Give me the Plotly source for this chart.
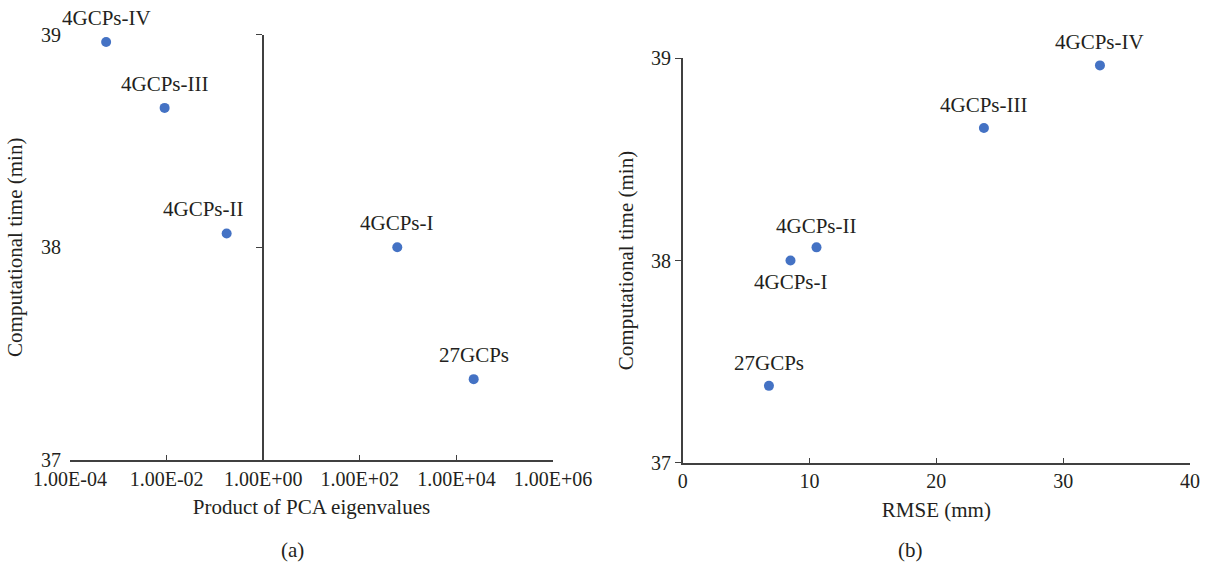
import math
import plotly.graph_objects as go

# ---- data ----
labels = ["4GCPs-I", "4GCPs-II", "4GCPs-III", "4GCPs-IV", "27GCPs"]
pca_product = [597, 0.175, 0.0091, 0.00056, 22800]
rmse_mm = [8.5, 10.55, 23.75, 32.9, 6.8]
comp_time = [38.00, 38.065, 38.655, 38.965, 37.38]

x_a_tickvals = [1e-4, 1e-2, 1e0, 1e2, 1e4, 1e6]
x_a_ticktext = ["1.00E-04", "1.00E-02", "1.00E+00", "1.00E+02", "1.00E+04", "1.00E+06"]

# ---- label placement (style) ----
lab_a_dx = [0, -23, 0, 0, 0]
lab_a_dy = [24, 24, 24, 24, 24]
lab_b_dx = [0, 0, 0, 0, 0]
lab_b_dy = [-22, 21, 23, 23, 23]

FONT = "Liberation Serif"
TXT = "#231f20"
AX = "#404040"
BLUE = "#4472c4"

tick_font = dict(family=FONT, size=20, color=TXT)
lab_font = dict(family=FONT, size=21, color=TXT)
ttl_font = dict(family=FONT, size=21, color=TXT)

fig = go.Figure()

fig.add_trace(go.Scatter(
    x=pca_product, y=comp_time, mode="markers",
    marker=dict(color=BLUE, size=10), xaxis="x", yaxis="y",
    cliponaxis=False, showlegend=False, hoverinfo="skip"))
# carrier for the crossing axis line at x = 1
fig.add_trace(go.Scatter(x=[], y=[], xaxis="x", yaxis="y3", showlegend=False))

fig.add_trace(go.Scatter(
    x=rmse_mm, y=comp_time, mode="markers",
    marker=dict(color=BLUE, size=10), xaxis="x2", yaxis="y2",
    cliponaxis=False, showlegend=False, hoverinfo="skip"))

annotations = []
for lab, xv, yv, dx, dy in zip(labels, pca_product, comp_time, lab_a_dx, lab_a_dy):
    annotations.append(dict(text=lab, x=math.log10(xv), y=yv, xref="x", yref="y",
                            xshift=dx, yshift=dy, showarrow=False,
                            xanchor="center", yanchor="middle", font=lab_font))
for lab, xv, yv, dx, dy in zip(labels, rmse_mm, comp_time, lab_b_dx, lab_b_dy):
    annotations.append(dict(text=lab, x=xv, y=yv, xref="x2", yref="y2",
                            xshift=dx, yshift=dy, showarrow=False,
                            xanchor="center", yanchor="middle", font=lab_font))
annotations += [
    dict(text="(a)", x=292 / 1210, y=1 - 550 / 567, xref="paper", yref="paper",
         xanchor="center", yanchor="middle", showarrow=False, font=ttl_font),
    dict(text="(b)", x=910 / 1210, y=1 - 550 / 567, xref="paper", yref="paper",
         xanchor="center", yanchor="middle", showarrow=False, font=ttl_font),
]

xa_dom = [70 / 1210, 553 / 1210]
cross = xa_dom[0] + (0 - (-4)) / 10 * (xa_dom[1] - xa_dom[0])
ya_dom = [1 - 460 / 567, 1 - 34.5 / 567]
xb_dom = [682.7 / 1210, 1190 / 1210]
yb_dom = [1 - 462.7 / 567, 1 - 58.3 / 567]

fig.update_layout(
    width=1210, height=567,
    margin=dict(l=0, r=0, t=0, b=0, autoexpand=False),
    paper_bgcolor="white", plot_bgcolor="white",
    font=dict(family=FONT, size=20, color=TXT),
    xaxis=dict(
        domain=xa_dom, type="log", range=[-4, 6], anchor="y", automargin=False,
        tickvals=x_a_tickvals, ticktext=x_a_ticktext, tickfont=tick_font,
        ticks="inside", ticklen=5, tickcolor=AX, tickwidth=1.3,
        showline=True, linecolor=AX, linewidth=1.5, showgrid=False, zeroline=False,
        title=dict(text="Product of PCA eigenvalues", standoff=11, font=ttl_font),
    ),
    yaxis=dict(
        domain=ya_dom, range=[37, 39], dtick=1, anchor="x", automargin=False,
        tickfont=tick_font,
        ticks="outside", ticklen=4, tickcolor="rgba(0,0,0,0)",
        showline=False, showgrid=False, zeroline=False,
        title=dict(text="Computational time (min)", standoff=12, font=ttl_font),
    ),
    yaxis3=dict(
        domain=ya_dom, range=[37, 39], dtick=1, overlaying="y",
        anchor="free", position=cross, side="left", automargin=False,
        ticks="outside", ticklen=6, tickcolor=AX, tickwidth=1.3,
        showticklabels=False, showline=True, linecolor=AX, linewidth=1.5,
        showgrid=False, zeroline=False,
    ),
    xaxis2=dict(
        domain=xb_dom, range=[0, 40], dtick=10, anchor="y2", automargin=False,
        tickfont=tick_font,
        ticks="inside", ticklen=5, tickcolor=AX, tickwidth=1.3,
        showline=True, linecolor=AX, linewidth=1.5, showgrid=False, zeroline=False,
        title=dict(text="RMSE (mm)", standoff=11, font=ttl_font),
    ),
    yaxis2=dict(
        domain=yb_dom, range=[37, 39], dtick=1, anchor="x2", automargin=False,
        tickfont=tick_font,
        ticks="outside", ticklen=6, tickcolor=AX, tickwidth=1.3,
        showline=True, linecolor=AX, linewidth=1.5, showgrid=False, zeroline=False,
        title=dict(text="Computational time (min)", standoff=12, font=ttl_font),
    ),
    annotations=annotations,
)

fig.write_html("out.html")
